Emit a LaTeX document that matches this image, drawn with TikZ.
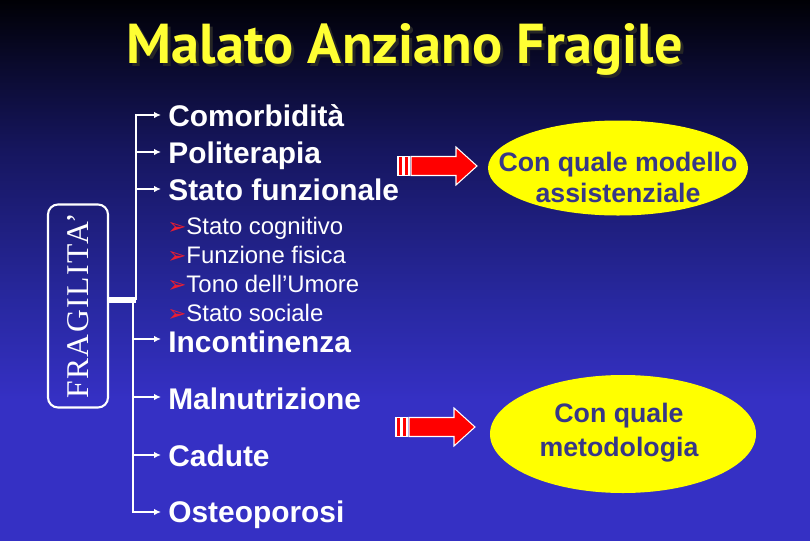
\documentclass[tikz,border=0pt]{standalone}
\usepackage{fontspec}
\setmainfont{Liberation Sans}
\newfontfamily\fragfont[LetterSpace=5]{Liberation Serif}
\newfontfamily\titlefont{PT Sans}
\newfontfamily\dingfont{DejaVu Sans}
\usetikzlibrary{arrows.meta}
\usetikzlibrary{shapes.geometric}
\usetikzlibrary{calc}
\tikzset{>={Latex[length=1.4mm,width=1.3mm]}}

\definecolor{bgtop}{RGB}{0,0,5}
\definecolor{bgdeep}{RGB}{10,10,45}
\definecolor{bgdark}{RGB}{22,22,95}
\definecolor{bgmid}{RGB}{40,40,160}
\definecolor{bgbot}{RGB}{53,48,196}
\definecolor{titleyellow}{RGB}{255,255,51}
\definecolor{askyellow}{RGB}{255,255,0}
\definecolor{asktextblue}{RGB}{55,55,135}
\definecolor{arrowred}{RGB}{255,0,0}
\definecolor{bulletred}{RGB}{235,30,50}

\pgfdeclareverticalshading{slidebg}{100bp}{color(0bp)=(bgbot); color(38bp)=(bgbot);
  color(47bp)=(bgmid); color(61bp)=(bgdark); color(69bp)=(bgdeep); color(75bp)=(bgtop);
  color(100bp)=(bgtop)}

\newcommand{\subbullet}{{\dingfont\color{bulletred}\fontsize{13}{13}\selectfont ➢}}

\begin{document}
\begin{tikzpicture}[x=0.2mm, y=-0.2mm,
    item/.style={anchor=base west, inner sep=0pt, text=white,
      font=\fontsize{17}{20}\selectfont\bfseries},
    subitem/.style={anchor=base west, inner sep=0pt, text=white,
      font=\fontsize{13.6}{16}\selectfont},
    link/.style={->, white, line width=1.3pt},
    blockarrow/.style={fill=arrowred, draw=white, line width=0.6pt},
    question/.style={ellipse, fill=askyellow, inner sep=0pt},
    asktext/.style={align=center, text=asktextblue}]
    \shade[shading=slidebg] (0,0) rectangle (810,540);
    \useasboundingbox (0,0) rectangle (810,540);

    % title
    \node[anchor=base, text=black!85, font=\titlefont\fontsize{32}{36}\selectfont\bfseries]
      (titleshadow) at (408,66) {Malato Anziano Fragile};
    \node[anchor=base, text=titleyellow, font=\titlefont\fontsize{32}{36}\selectfont\bfseries]
      (title) at (405,63) {Malato Anziano Fragile};

    % left box
    \node[rotate=90, draw=white, line width=1.2pt, rounded corners=2mm, inner sep=0pt,
      minimum width=40.6mm, minimum height=12mm, text=white,
      font=\fragfont\fontsize{18}{20}\selectfont] (frag) at (78,306) {FRAGILITA’};

    \coordinate (hubU) at (136,300);
    \coordinate (hubL) at (133,300);
    \draw[white, line width=3.4pt] (hubU -| frag.south) -- (hubU);

    % items
    \node[item] (com) at (168,126) {Comorbidità};
    \node[item] (pol) at (168,163) {Politerapia};
    \node[item] (sta) at (168,200) {Stato funzionale};
    \node[subitem] (cog) at (167,234) {\subbullet Stato cognitivo};
    \node[subitem] (fis) at (167,263) {\subbullet Funzione fisica};
    \node[subitem] (umo) at (167,292) {\subbullet Tono dell’Umore};
    \node[subitem] (soc) at (167,321) {\subbullet Stato sociale};
    \node[item] (inc) at (168,352) {Incontinenza};
    \node[item] (mal) at (168,409) {Malnutrizione};
    \node[item] (cad) at (168,466) {Cadute};
    \node[item] (ost) at (168,522) {Osteoporosi};

    \draw[link] (hubU) |- ([xshift=-1.4mm,yshift=2.2mm]com.base west);
    \draw[link] (hubU) |- ([xshift=-1.4mm,yshift=2.2mm]pol.base west);
    \draw[link] (hubU) |- ([xshift=-1.4mm,yshift=2.2mm]sta.base west);
    \draw[link] (hubL) |- ([xshift=-1.4mm,yshift=2.6mm]inc.base west);
    \draw[link] (hubL) |- ([xshift=-1.4mm,yshift=2.4mm]mal.base west);
    \draw[link] (hubL) |- ([xshift=-1.4mm,yshift=2.2mm]cad.base west);
    \draw[link] (hubL) |- ([xshift=-1.4mm,yshift=2.0mm]ost.base west);

    % red arrows
    \foreach \ax/\ay in {398/166, 396/427} {
      \draw[blockarrow] (\ax,\ay-9.5) rectangle ++(5,19);
      \draw[blockarrow] (\ax+6,\ay-9.5) rectangle ++(5,19);
      \draw[blockarrow] (\ax+13,\ay-9.5) -- (\ax+58,\ay-9.5) -- (\ax+58,\ay-19)
        -- (\ax+79,\ay) -- (\ax+58,\ay+19) -- (\ax+58,\ay+9.5) -- (\ax+13,\ay+9.5) -- cycle;
    }

    % questions
    \node[question, minimum width=52mm, minimum height=19mm] (askA) at (618,168) {};
    \node[asktext, font=\fontsize{15.2}{17.6}\selectfont\bfseries] (askAtext) at (618,177)
      {Con quale modello\\assistenziale};
    \node[question, minimum width=53.2mm, minimum height=23.6mm] (askB) at (623,434) {};
    \node[asktext, font=\fontsize{15.2}{19.4}\selectfont\bfseries] (askBtext) at (619,433)
      {Con quale\\metodologia};
\end{tikzpicture}
\end{document}
